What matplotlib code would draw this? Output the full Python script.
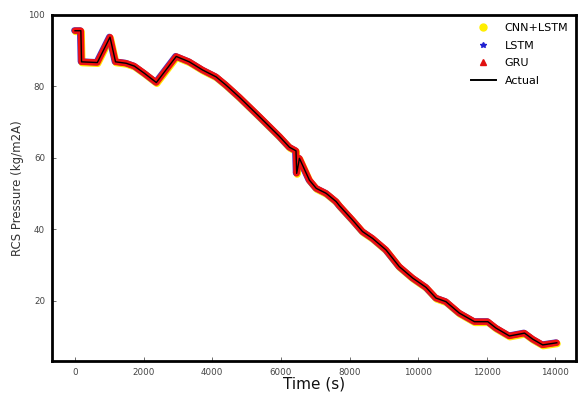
import matplotlib
matplotlib.use("Agg")
import matplotlib.pyplot as plt
from matplotlib.lines import Line2D
from matplotlib.transforms import offset_copy

# Time (s) and RCS pressure
time_s = [0, 170, 190, 650, 1020, 1180, 1490, 1730, 2020, 2370, 2950, 3330,
          3720, 4110, 4400, 4790, 5370, 5960, 6250, 6440, 6460, 6540, 6830,
          7030, 7320, 7610, 7710, 8090, 8380, 8670, 9060, 9450, 9840, 10230,
          10520, 10810, 11200, 11640, 12030, 12270, 12660, 13100, 13340,
          13630, 14040]
actual = [95.6, 95.6, 86.9, 86.7, 93.8, 86.9, 86.5, 85.7, 83.7, 81.1, 88.4,
          86.9, 84.6, 82.7, 80.4, 77.0, 71.6, 66.0, 63.0, 62.0, 55.7, 59.9,
          53.8, 51.5, 50.1, 47.8, 46.6, 42.6, 39.4, 37.5, 34.3, 29.6, 26.4,
          23.8, 20.8, 19.8, 16.6, 14.2, 14.2, 12.4, 10.2, 11.0, 9.3, 7.7, 8.3]
# predictions sit on top of the measured curve
cnn_lstm = actual
lstm = actual
gru = actual

x_ticks = [0, 2000, 4000, 6000, 8000, 10000, 12000, 14000]
y_ticks = [20, 40, 60, 80, 100]

fig = plt.figure(figsize=(5.81, 3.95), dpi=100)
ax = fig.add_axes([52 / 581, 1 - 361 / 395, 524 / 581, 346 / 395])

yel_tr = offset_copy(ax.transData, fig=fig, x=0.5, y=-1.0, units="dots")
blu_tr = offset_copy(ax.transData, fig=fig, x=-0.7, y=0.3, units="dots")

ax.plot(time_s, cnn_lstm, color="#ffe600", lw=5.0, solid_joinstyle="round",
        solid_capstyle="round", transform=yel_tr, zorder=2)
ax.plot(time_s, lstm, color="#4a30c0", lw=4.6, solid_joinstyle="round",
        solid_capstyle="round", transform=blu_tr, zorder=3)
ax.plot(time_s, gru, color="#f01010", lw=4.6, solid_joinstyle="round",
        solid_capstyle="round", zorder=4)
ax.plot(time_s, actual, color="black", lw=1.0, zorder=5)

ax.set_xlim(-671, 14600)
ax.set_ylim(3.2, 100)
ax.set_xticks(x_ticks)
ax.set_yticks(y_ticks)
ax.tick_params(direction="in", length=3, width=0.6, color="#555555",
               labelsize=6.3, labelcolor="#444444", pad=5)
for sp in ax.spines.values():
    sp.set_linewidth(2.0)
    sp.set_color("black")

ax.set_xlabel("Time (s)", fontsize=11, color="#111111", labelpad=0)
ax.set_ylabel("RCS Pressure (kg/m2A)", fontsize=8.5, color="#333333", labelpad=3)

handles = [
    Line2D([], [], ls="none", marker="o", ms=5, color="#ffee00", label="CNN+LSTM"),
    Line2D([], [], ls="none", marker="*", ms=4, color="#2020d0", label="LSTM"),
    Line2D([], [], ls="none", marker="^", ms=4.5, color="#e01010", label="GRU"),
    Line2D([], [], color="black", lw=1.4, label="Actual"),
]
ax.legend(handles=handles, loc="upper right", frameon=False, fontsize=8,
          labelspacing=0.7, handlelength=2.2, borderaxespad=0.3)

fig.savefig("out.png", dpi=100)
